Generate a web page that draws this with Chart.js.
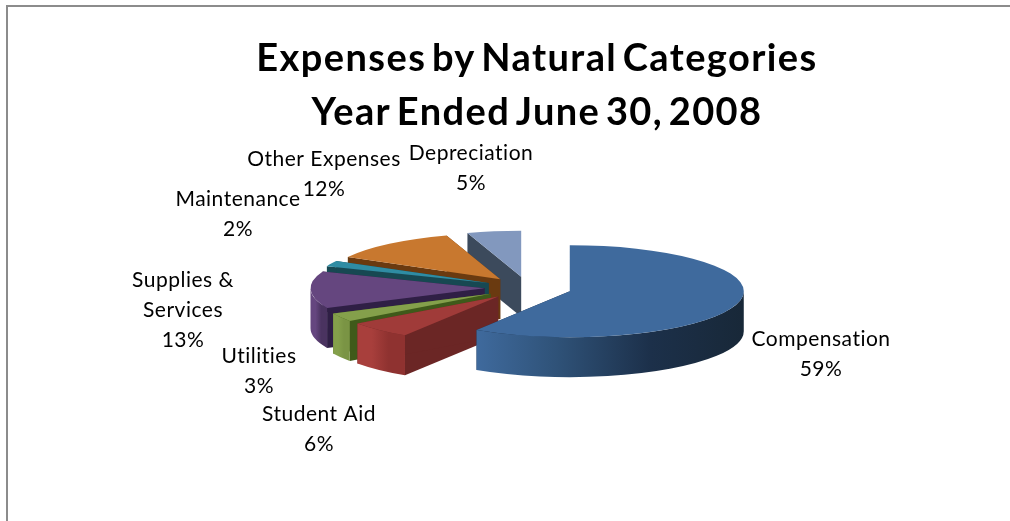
<!DOCTYPE html>
<html><head><meta charset="utf-8">
<script src="https://cdn.jsdelivr.net/npm/chart.js@4"></script>
<style>
html,body{margin:0;padding:0;background:#fff;overflow:hidden}
#wrap{position:relative;width:1010px;height:521px;overflow:hidden}
#frame{position:absolute;left:6px;top:5px;right:-10px;bottom:-10px;border:2px solid #8c8c8c}
canvas{position:absolute;left:0;top:0}
</style></head><body>
<div id="wrap"><div id="frame"></div><canvas id="c" width="1010" height="521"></canvas></div>
<script>
const titleLines = ['Expenses by Natural Categories', 'Year Ended June 30, 2008'];
const categories = ['Compensation', 'Student Aid', 'Utilities', 'Supplies & Services', 'Maintenance', 'Other Expenses', 'Depreciation'];
const values = [59, 6, 3, 13, 2, 12, 5];

const topColors = ['#3F6A9D', '#A03B39', '#84A04B', '#65467F', '#2F8CA3', '#C8782F', '#8298BE'];
const radialColors = ['#1A2B42', '#6B2625', '#3F5A1A', '#2F1F45', '#174852', '#6A3A10', '#3C4A5C'];
const rimLeft = ['#3F6A9D', '#A83F3C', '#84A04B', '#65467F', '#2F8CA3', '#C8782F', '#8298BE'];
const rimRight = ['#182838', '#8F3230', '#7A9444', '#4A3360', '#2F8CA3', '#C8782F', '#8298BE'];

const labelLines = [['Compensation'], ['Student Aid'], ['Utilities'], ['Supplies &', 'Services'], ['Maintenance'], ['Other Expenses'], ['Depreciation']];
const labelX = [821, 319, 259, 183, 238, 324, 471];
const labelY = [339, 414, 356, 280, 199, 159, 153];

const view = {cx: 528, cy: 288, rx: 174, ry: 46, depth: 40, explode: 43.5};

const pie3d = {
  id: 'pie3d',
  beforeDraw(chart) {
    chart.ctx.letterSpacing = '1.4px';
    chart.ctx.wordSpacing = '-5px';
  },
  beforeDatasetDraw(chart, args) {
    const ctx = chart.ctx, arcs = args.meta.data;
    const k = view.ry / view.rx;
    const order = arcs.map((_, i) => i).reverse();
    order.forEach(i => {
      const arc = arcs[i];
      const p = arc.getProps(['x', 'y', 'startAngle', 'endAngle', 'outerRadius']);
      const R = p.outerRadius, off = view.explode, mid = (p.startAngle + p.endAngle) / 2;
      const sx = view.cx + Math.cos(mid) * off;
      const sy = view.cy + Math.sin(mid) * off * k;
      const rim = a => [sx + R * Math.cos(a), sy + R * k * Math.sin(a)];
      const d = view.depth;
      [p.startAngle, p.endAngle].forEach(a => {
        const [x, y] = rim(a);
        ctx.beginPath();
        ctx.moveTo(sx, sy); ctx.lineTo(x, y); ctx.lineTo(x, y + d); ctx.lineTo(sx, sy + d); ctx.closePath();
        ctx.fillStyle = radialColors[i]; ctx.fill();
      });
      const a0 = Math.max(p.startAngle, 0), a1 = Math.min(p.endAngle, Math.PI);
      if (a1 > a0) {
        const xs = [];
        for (let t = 0; t <= 40; t++) xs.push(rim(a0 + (a1 - a0) * t / 40)[0]);
        const g = ctx.createLinearGradient(Math.min(...xs), 0, Math.max(...xs), 0);
        g.addColorStop(0, rimLeft[i]);
        g.addColorStop(0.3, i === 0 ? '#2F5278' : rimLeft[i]);
        g.addColorStop(0.65, i === 0 ? '#1C304A' : rimRight[i]);
        g.addColorStop(1, rimRight[i]);
        ctx.beginPath();
        ctx.ellipse(sx, sy, R, R * k, 0, a0, a1, false);
        ctx.ellipse(sx, sy + d, R, R * k, 0, a1, a0, true);
        ctx.closePath();
        ctx.fillStyle = g; ctx.fill();
      }
      ctx.save();
      ctx.translate(sx, sy);
      ctx.scale(1, k);
      ctx.translate(-p.x, -p.y);
      arc.draw(ctx);
      ctx.restore();
    });
    return false;
  },
  afterDraw(chart) {
    const ctx = chart.ctx;
    ctx.save();
    ctx.letterSpacing = '0.5px';
    ctx.wordSpacing = '0px';
    ctx.fillStyle = '#000';
    ctx.font = '21px Lato';
    ctx.textAlign = 'center';
    ctx.textBaseline = 'middle';
    categories.forEach((_, i) => {
      const lines = labelLines[i].concat(values[i] + '%');
      lines.forEach((t, j) => ctx.fillText(t, labelX[i], labelY[i] + j * 30));
    });
    ctx.restore();
  }
};

new Chart(document.getElementById('c'), {
  type: 'pie',
  data: {labels: categories, datasets: [{
    data: values,
    backgroundColor: topColors,
    borderWidth: 0
  }]},
  options: {
    responsive: false,
    animation: false,
    radius: view.rx,
    layout: {padding: {left: 64}},
    plugins: {
      legend: {display: false},
      tooltip: {enabled: false},
      title: {
        display: true,
        text: titleLines,
        color: '#000',
        font: {family: 'Lato', weight: 'bold', size: 38, lineHeight: 1.42},
        padding: {top: 32, bottom: 0}
      }
    }
  },
  plugins: [pie3d]
});
</script>
</body></html>
